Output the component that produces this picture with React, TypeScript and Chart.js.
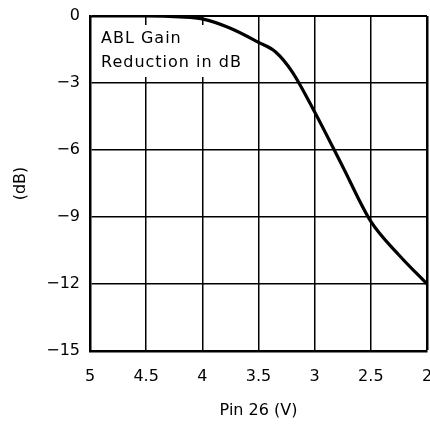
import React, { useEffect, useRef } from "react";
import { Chart, registerables } from "chart.js";

Chart.register(...registerables);

const pinVoltage = [5, 4.5, 4.2, 4.0, 3.75, 3.5, 3.35, 3.2, 3.0, 2.75, 2.5, 2.25, 2.0];
const gainDb = [0, 0, -0.04, -0.13, -0.55, -1.18, -1.6, -2.5, -4.3, -6.75, -9.2, -10.7, -12.0];
const noteLines = ["ABL Gain", "Reduction in dB"];
const xTitle = "Pin 26 (V)";
const yTitle = "(dB)";

const FONT = "'DejaVu Sans', sans-serif";

const notePlugin = {
  id: "noteBox",
  beforeDatasetsDraw(chart: any) {
    const { ctx, chartArea } = chart;
    ctx.save();
    ctx.fillStyle = "#fff";
    ctx.fillRect(chartArea.left + 4, chartArea.top + 9, 158, 52);
    ctx.fillStyle = "#000";
    ctx.font = "16px " + FONT;
    try {
      (ctx as any).letterSpacing = "1px";
    } catch (e) {}
    ctx.textBaseline = "middle";
    ctx.textAlign = "left";
    noteLines.forEach((t, i) => {
      ctx.fillText(t, chartArea.left + 11, chartArea.top + 23 + i * 24);
    });
    ctx.restore();
  },
};

export default function App() {
  const ref = useRef<HTMLCanvasElement>(null);
  useEffect(() => {
    if (!ref.current) return;
    const chart = new Chart(ref.current, {
      type: "line",
      data: {
        datasets: [
          {
            data: pinVoltage.map((v, i) => ({ x: v, y: gainDb[i] })),
            borderColor: "#000",
            borderWidth: 3.2,
            pointRadius: 0,
            cubicInterpolationMode: "monotone",
            fill: false,
          },
        ],
      },
      options: {
        animation: false,
        responsive: false,
        layout: { padding: { left: 0, right: 3, top: 16, bottom: 0 } },
        plugins: { legend: { display: false }, tooltip: { enabled: false } },
        scales: {
          x: {
            type: "linear",
            reverse: true,
            min: 2,
            max: 5,
            afterFit(s: any) {
              s.height = 74;
              s.paddingLeft = 0;
              s.paddingRight = 0;
            },
            ticks: {
              stepSize: 0.5,
              color: "#000",
              padding: 16,
              font: { family: FONT, size: 16 },
              callback: (v: any) => String(v),
            },
            grid: {
              color: "#000",
              lineWidth: (c: any) => (c.tick && c.tick.value === 2 ? 2.5 : 1.5),
              drawTicks: false,
            },
            border: { color: "#000", width: 2.5 },
            title: {
              display: true,
              text: xTitle,
              color: "#000",
              font: { family: FONT, size: 16 },
              padding: { top: 0, bottom: 5 },
            },
          },
          y: {
            type: "linear",
            min: -15,
            max: 0,
            afterFit(s: any) {
              s.width = 90;
              s.paddingTop = 0;
              s.paddingBottom = 0;
            },
            ticks: {
              stepSize: 3,
              color: "#000",
              padding: 10,
              font: { family: FONT, size: 16 },
              callback: (v: any) => String(v).replace("-", "\u2212"),
            },
            grid: {
              color: "#000",
              lineWidth: (c: any) => (c.tick && c.tick.value === 0 ? 2 : 1.5),
              drawTicks: false,
            },
            border: { color: "#000", width: 2.5 },
            title: {
              display: true,
              text: yTitle,
              color: "#000",
              font: { family: FONT, size: 16 },
              padding: { top: 11, bottom: 0 },
            },
          },
        },
      },
      plugins: [notePlugin],
    } as any);
    return () => chart.destroy();
  }, []);
  return (
    <div style={{ position: "absolute", left: 0, top: 0, width: 430, height: 425, background: "#fff" }}>
      <canvas ref={ref} width={430} height={425} style={{ display: "block" }} />
    </div>
  );
}
